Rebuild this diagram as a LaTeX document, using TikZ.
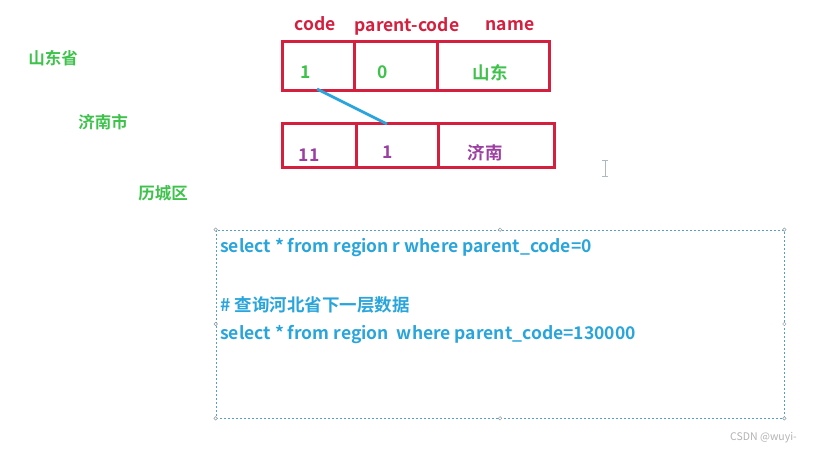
\documentclass[tikz,border=0pt]{standalone}
\usepackage{fontspec}
\setmainfont{Noto Sans CJK SC}[BoldFont={* Bold}]
\usetikzlibrary{positioning}
\definecolor{rowred}{HTML}{D41F3F}
\definecolor{leafgreen}{HTML}{3EC24C}
\definecolor{grape}{HTML}{9B3FA0}
\definecolor{sqlblue}{HTML}{29A5DC}
\definecolor{handle}{HTML}{8A9AA6}
\tikzset{
  cell/.style      = {draw=rowred, line width=3pt, rectangle, outer sep=0pt, inner sep=0pt},
  head/.style      = {text=rowred, font=\bfseries\fontsize{17.5}{20}\selectfont, inner sep=0pt},
  value/.style     = {font=\bfseries\fontsize{17.5}{20}\selectfont, inner sep=0pt},
  level/.style     = {text=leafgreen, font=\bfseries\fontsize{16.5}{19}\selectfont, inner sep=0pt},
  sql/.style       = {text=sqlblue, font=\bfseries\fontsize{17.5}{20}\selectfont, inner sep=0pt, anchor=west},
  link/.style      = {draw=sqlblue, line width=2.8pt},
  knob/.style      = {draw=handle, fill=white, circle, line width=0.5pt, inner sep=0pt, minimum size=3.5pt},
}
\begin{document}
\begin{tikzpicture}[x=1pt, y=-1pt]
  \useasboundingbox (0,0) rectangle (834,454);

  % region levels
  \node[level] (prov) at (53,58) {山东省};
  \node[level] (city) at (103,122) {济南市};
  \node[level] (dist) at (163,193) {历城区};

  % column headers
  \node[head] (hcode) at (315,24) {code};
  \node[head] (hparent) at (407,26) {parent-code};
  \node[head] (hname) at (510,26) {name};

  % row: 山东
  \node[cell, minimum width=72pt, minimum height=49pt] (c1) at (318,66.5) {};
  \node[cell, minimum width=83pt, minimum height=49pt, right=0pt of c1] (p1) {};
  \node[cell, minimum width=112pt, minimum height=49pt, right=0pt of p1] (n1) {};

  % row: 济南
  \node[cell, minimum width=74pt, minimum height=44pt] (c2) at (319,146) {};
  \node[cell, minimum width=82pt, minimum height=44pt, right=0pt of c2] (p2) {};
  \node[cell, minimum width=116pt, minimum height=44pt, right=0pt of p2] (n2) {};

  \node[value, text=leafgreen] (c1v) at (306,72) {1};
  \node[value, text=leafgreen] (p1v) at (383,72) {0};
  \node[value, text=leafgreen] (n1v) at (490,73) {山东};
  \node[value, text=grape] (c2v) at (309,155) {11};
  \node[value, text=grape] (p2v) at (388,152) {1};
  \node[value, text=grape] (n2v) at (485,153) {济南};

  \draw[link] ([xshift=-1pt, yshift=2pt]c1.south) -- ([xshift=-10pt]p2.north);

  % text cursor
  \draw[handle!70, line width=0.8pt] (605,160) -- (605,176)
    (602,160) -- (608,160) (602,176) -- (608,176);

  % query box
  \node[draw=sqlblue!55!handle, dash pattern=on 2pt off 2pt, line width=0.7pt, rectangle, minimum width=568pt, minimum height=188pt, inner sep=0pt] (qbox) at (500,324) {};
  \foreach \a in {north west, north, north east, west, east, south west, south, south east}
    \node[knob] at (qbox.\a) {};

  \node[sql] (q1) at (220,248) {select * from region r where parent\_code=0};
  \node[sql] (q2) at (220,305) {\# 查询河北省下一层数据};
  \node[sql] (q3) at (220,335) {select * from region\ \ where parent\_code=130000};

  \node[text=black!30, font=\fontsize{10.5}{12}\selectfont, anchor=east, inner sep=0pt] (mark) at (797,438) {CSDN @wuyi-};
\end{tikzpicture}
\end{document}
